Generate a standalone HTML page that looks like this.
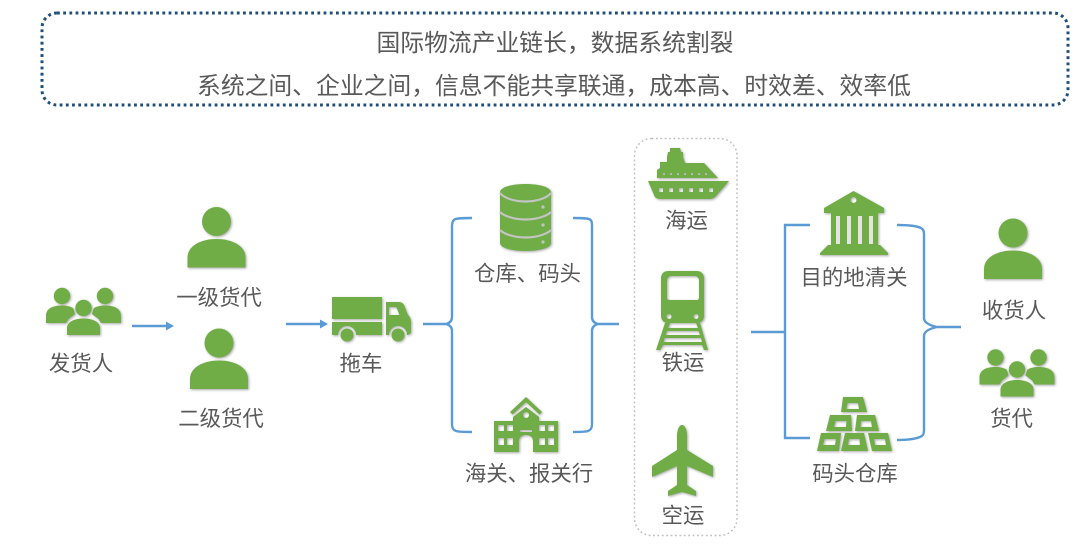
<!DOCTYPE html>
<html><head><meta charset="utf-8"><style>
html,body{margin:0;padding:0;background:#fff;width:1080px;height:544px;overflow:hidden}
svg{display:block;filter:blur(.35px)}
text{font-family:"Liberation Sans","Noto Sans CJK SC",sans-serif;fill:#595959;text-anchor:middle;font-size:21.4px}
.t{font-family:"Noto Sans CJK SC",sans-serif;font-size:23.8px}
.b{fill:none;stroke:#5b9bd5;stroke-width:2.4}
.g{fill:#70ad47}
.i{filter:drop-shadow(1.5px 1.5px 1.2px rgba(0,0,0,.35))}
</style></head><body>
<svg width="1080" height="544" viewBox="0 0 1080 544">
<defs>
<g id="p"><circle cx="0" cy="0" r="14.5"/><path d="M-29 46V36C-29 24-15 17.500 0 17.500S29 24 29 36V46Z"/></g>
<g id="gr">
<circle cx="-21.500" cy="-12" r="8.200"/><circle cx="21.500" cy="-12" r="8.200"/>
<path d="M-37.500 15V8C-37.500 0-30-2.500-21.500-2.500-17-2.500-13-1.500-10.500 0-9.500 2-9 4-8.500 6L-15 11-17.500 15Z"/>
<path d="M37.500 15V8C37.500 0 30-2.500 21.500-2.500 17-2.500 13-1.500 10.500 0 9.500 2 9 4 8.500 6L15 11 17.500 15Z"/>
<circle cx="0" cy="0" r="8.200"/>
<path d="M-16.500 27V20C-16.500 14-9 10.500 0 10.500S16.500 14 16.500 20V27Z"/>
</g>
<mask id="wm" maskUnits="userSpaceOnUse" x="325" y="290" width="95" height="55">
<rect x="325" y="290" width="95" height="55" fill="#fff"/>
<circle cx="347" cy="335" r="9" fill="#000"/><circle cx="398" cy="335" r="9" fill="#000"/>
</mask>
</defs>

<rect x="42" y="13" width="1026" height="92" rx="15" fill="none" stroke="#1f4e79" stroke-width="3" stroke-dasharray="2.800 3.400"/>
<text class="t" x="555" y="51">国际物流产业链长&#xFF0C;数据系统割裂</text>
<text class="t" x="554" y="94">系统之间、企业之间&#xFF0C;信息不能共享联通&#xFF0C;成本高、时效差、效率低</text>

<rect x="634.500" y="138.500" width="102.500" height="397" rx="17" fill="none" stroke="#bfbfbf" stroke-width="1.500" stroke-dasharray="1.800 2.600"/>

<!-- connectors -->
<path class="b" d="M132 326H168"/><path d="M166 321.500L174 326L166 330.500Z" fill="#5b9bd5"/>
<path class="b" d="M286 324H322"/><path d="M320 319.500L328 324L320 328.500Z" fill="#5b9bd5"/>
<path class="b" d="M472 218C464 218 457 218 454.500 219.500 452.500 221 452 223 452 226V317C452 321 450 323 446 324H423M446 324C450 325 452 327 452 331V424C452 428 453 430 456 431 459 432 465 432 472 432"/>
<path class="b" d="M573 218C581 218 588 218 590 219.500 592 221 592 223 592 226V317C592 321 594 323 598 324H619M598 324C594 325 592 327 592 331V424C592 428 591 430 588 431 585 432 580 432 573 432"/>
<path class="b" d="M810 225H785V438H810M751 332H785"/>
<path class="b" d="M897 225C908 225 917 226 921 228 923.500 229.500 924 231 924 234V318C924 322 928 325 937 327H961M937 327C928 329 924 332 924 336V430C924 434 923 436 920 437 915 439 907 440 897 440"/>

<g class="g i">
<use href="#p" x="216.500" y="221.500"/>
<use href="#p" x="219" y="343"/>
<use href="#p" x="1013" y="233"/>
<use href="#gr" x="83.500" y="308"/>
<use href="#gr" x="1017" y="369.500"/>

<!-- truck -->
<g mask="url(#wm)">
<rect x="332" y="297" width="50" height="22"/>
<rect x="332" y="322" width="50" height="13"/>
<path fill-rule="evenodd" d="M386 302H398C401 302 403 303 404 305L408 315C410 317 411 319 411 323V333L408 335H386ZM389 307V315H399.500L397 308.500C396.500 307.500 396 307 395 307Z"/>
</g>
<circle cx="347" cy="335" r="6.500"/>
<circle cx="398" cy="335" r="6.500"/>

<!-- database -->
<path d="M500 192.500C500 187 512 184 525.500 184S551 187 551 192.500V243C551 248 539 251 525.500 251S500 248 500 243Z"/>
<g fill="none" stroke="#c4c4c4" stroke-width="2.200">
<path d="M500 193C504 198 514 201.500 525.500 201.500S547 198 551 193"/>
<path d="M500 212C504 216 514 219.500 525.500 219.500S547 216 551 212"/>
<path d="M500 230C504 234 514 237.500 525.500 237.500S547 234 551 230"/>
</g>
<g fill="#c4c4c4"><circle cx="543" cy="207" r="1.600"/><circle cx="543" cy="225" r="1.600"/><circle cx="543" cy="242" r="1.600"/></g>

<!-- school -->
<path fill-rule="evenodd" d="M494 421H513V417L526 407L539 417V421H558V452H533V441C533 437 530 435 526 435S519 437 519 441V452H494ZM498 425V431H504V425ZM507 425V431H513V425ZM539 425V431H545V425ZM548 425V431H554V425ZM498 438V445H504V438ZM507 438V445H513V438ZM539 438V445H545V438ZM548 438V445H554V438ZM520 430V432H532V430ZM526 412A3 3 0 1 0 526.100 412Z"/>
<path d="M526 397L542 412L539.500 414.500L526 402L512.500 414.500L510 412Z"/>

<!-- ship -->
<path fill-rule="evenodd" d="M648 181H729L716 196C714 198 712 199 709 199H661C657 199 655 198 654 195ZM659 188V192H663V188ZM669 188V192H673V188ZM679 188V192H683V188ZM689 188V192H693V188ZM699 188V192H703V188ZM709 188V192H713V188Z"/>
<path fill-rule="evenodd" d="M657 178V170L660 168V162H667V157L668 152H670V148H680L681 152H683V157L685 163H704L718 178ZM663 173V175H665V173ZM670 173V175H672V173ZM677 173V175H679V173ZM684 173V175H686V173ZM691 173V175H693V173ZM698 173V175H700V173ZM705 173V175H707V173Z"/>

<!-- train -->
<path fill-rule="evenodd" d="M668 271H697C701 271 704 274 704 278V316C704 320 701 323 697 323H668C664 323 661 320 661 316V278C661 274 664 271 668 271ZM671 276C669 276 667 278 667 280V298C667 299 668 300 669 300H697C698 300 699 299 699 298V280C699 278 697 276 695 276ZM669 314A2.500 2.500 0 1 0 669.100 319 2.500 2.500 0 1 0 669 314ZM696 314A2.500 2.500 0 1 0 696.100 319 2.500 2.500 0 1 0 696 314Z"/>
<path fill-rule="evenodd" d="M665 323H670L668 328H698L696 323H700L708 350H704L702 345H663L660 350H656ZM667 331L665.500 335H700L698.500 331ZM664.500 338L663.500 342H702L701 338Z"/>

<!-- plane -->
<path d="M682 425C685 425 687 430 687 436V450L713 466V477L687 466V485L696 491V496L682 492L668 496V491L677 485V466L652 477V466L677 450V436C677 430 679 425 682 425Z"/>

<!-- bank -->
<path fill-rule="evenodd" d="M853.500 191L884 208V213H824V208ZM853.500 197A3 3 0 1 0 853.600 203 3 3 0 1 0 853.500 197Z"/>
<rect x="831" y="213" width="47" height="32"/>
<path d="M828 245H880L888 253V255H820V253Z"/>
<g fill="#e4e4e4"><rect x="836" y="216" width="4" height="28"/><rect x="847" y="216" width="4" height="28"/><rect x="858" y="216" width="4" height="28"/><rect x="869" y="216" width="4" height="28"/></g>

<!-- gold -->
<path fill-rule="evenodd" d="M843 397H863L867 412H841ZM847.500 403L846.500 409H859L858 403Z"/>
<path fill-rule="evenodd" d="M830 415H851L852 431H826ZM835.500 421L834 427H846L846.500 421Z"/>
<path fill-rule="evenodd" d="M857 415H875L879 431H855ZM861 421L860.500 427H872L871 421Z"/>
<path fill-rule="evenodd" d="M821 433H841L839 451H817ZM824.500 439L823 445H835L836 439Z"/>
<path fill-rule="evenodd" d="M845 433H864L868 451H841ZM849 439L848 445H860L859.500 439Z"/>
<path fill-rule="evenodd" d="M868 433H888L892 451H872ZM874 439L875 445H886L885 439Z"/>
</g>

<text x="81" y="371">发货人</text>
<text x="219" y="305">一级货代</text>
<text x="221" y="426">二级货代</text>
<text x="361" y="371">拖车</text>
<text x="527.500" y="281">仓库、码头</text>
<text x="529" y="481">海关、报关行</text>
<text x="686.500" y="228">海运</text>
<text x="683" y="370">铁运</text>
<text x="683" y="523">空运</text>
<text x="854" y="285">目的地清关</text>
<text x="855" y="481">码头仓库</text>
<text x="1014" y="318">收货人</text>
<text x="1011.500" y="426">货代</text>
</svg>
</body></html>
